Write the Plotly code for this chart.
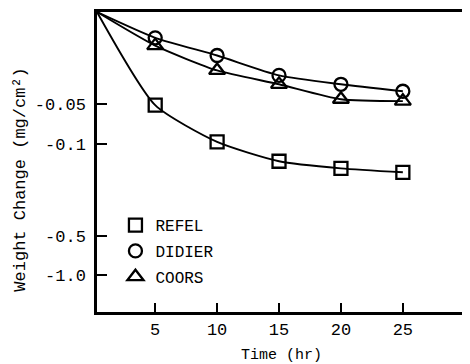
import numpy as np
import plotly.graph_objects as go

# Data (weight loss magnitude, mg/cm^2; shown as negative labels)
time = [5, 10, 15, 20, 25]
refel = [0.051, 0.097, 0.136, 0.154, 0.165]
didier = [0.0157, 0.0214, 0.0303, 0.0354, 0.040]
coors = [0.018, 0.0278, 0.0354, 0.046, 0.0475]
# curves start at the top-left corner of the plot
origin_time = 0.3
origin_value = 0.01

series = [("REFEL", refel, "square-open", 13),
          ("DIDIER", didier, "circle-open", 13),
          ("COORS", coors, "triangle-up-open", 14)]

ytick_vals = [0.05, 0.1, 0.5, 1.0]
ytick_text = ["-0.05", "-0.1", "-0.5", "-1.0"]
xtick_vals = [5, 10, 15, 20, 25]

FONT = "Liberation Mono"
fig = go.Figure()
for i, (name, vals, sym, sz) in enumerate(series):
    fig.add_trace(go.Scatter(
        x=[origin_time] + time, y=[origin_value] + vals, mode="lines",
        line=dict(color="black", width=1.9, shape="spline", smoothing=0.6),
        showlegend=False, hoverinfo="skip"))
for i, (name, vals, sym, sz) in enumerate(series):
    fig.add_trace(go.Scatter(
        x=time, y=vals, mode="markers", name=name, legendgroup=name,
        marker=dict(symbol=sym, size=sz, color="black",
                    line=dict(color="black", width=2.3)),
    ))

fig.update_layout(
    width=462, height=356,
    margin=dict(l=89, r=1, t=1, b=52),
    paper_bgcolor="white", plot_bgcolor="white",
    font=dict(family=FONT, size=17, color="black"),
    showlegend=True,
    legend=dict(x=0.05, y=0.346, xanchor="left", yanchor="top",
                bgcolor="rgba(0,0,0,0)", tracegroupgap=2,
                font=dict(family=FONT, size=16, color="black")),
    xaxis=dict(range=[0.3, 30.1], tickvals=xtick_vals, ticks="inside",
               ticklen=9, tickwidth=2, tickcolor="black",
               showline=True, linecolor="black", linewidth=2.5, mirror=True,
               showgrid=False, zeroline=False,
               tickfont=dict(family=FONT, size=17),
               title=dict(text="Time (hr)", font=dict(family=FONT, size=15), standoff=12)),
    yaxis=dict(type="log", range=[np.log10(1.9), -2], tickvals=ytick_vals,
               ticktext=ytick_text, ticks="inside", ticklen=10, tickwidth=2,
               tickcolor="black", showline=True, linecolor="black",
               linewidth=2.5, mirror=True, showgrid=False, zeroline=False,
               tickfont=dict(family=FONT, size=17),
               ticklabelstandoff=5),
    annotations=[dict(text="Weight Change (mg/cm\u00b2)", xref="paper", yref="paper",
                      x=-0.208, y=0.442, xanchor="center", yanchor="middle",
                      textangle=-90, showarrow=False,
                      font=dict(family=FONT, size=17, color="black"))],
)
fig.write_html("out.html")
